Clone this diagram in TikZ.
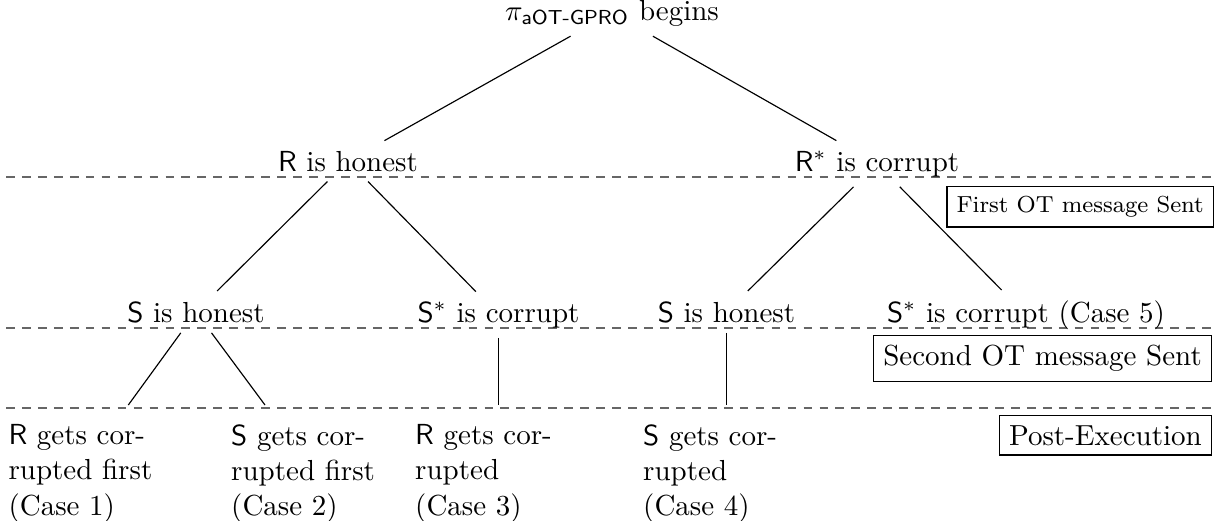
\documentclass[tikz,border=0pt]{standalone}
\usepackage{amsmath}
\usetikzlibrary{calc}
\begin{document}
\begin{tikzpicture}[x=0.3448pt,y=-0.3448pt,
  lbl/.style={inner sep=3.33pt, anchor=base},
  stagebox/.style={draw, inner sep=3.33pt, anchor=north east},
  bot/.style={align=left, anchor=north west, inner sep=3.33pt, font=\fontsize{10}{12.2}\selectfont},
  sep/.style={draw=black!60, dash pattern=on 3pt off 2.5pt},
  conn/.style={draw=black, line width=0.4pt}]
\useasboundingbox (0,0) rectangle (1221,520);

% separators
\coordinate (s1l) at (6,177);   \coordinate (s1r) at (1214,177);
\coordinate (s2l) at (6,328);   \coordinate (s2r) at (1214,328);
\coordinate (s3l) at (6,408);   \coordinate (s3r) at (1214,408);
\coordinate (cut) at (0,405);
\draw[sep] (s1l) -- (s1r);
\draw[sep] (s2l) -- (s2r);
\draw[sep] (s3l) -- (s3r);

% tree nodes
\node[lbl] (top) at (612,20) {$\pi_{\textsf{aOT-GPRO}}$ begins};
\node[lbl] (rh) at (348,171) {\textsf{R} is honest};
\node[lbl] (rc) at (877,171) {$\mathsf{R}^*$ is corrupt};
\node[lbl] (sh1) at (196,322) {\textsf{S} is honest};
\node[lbl] (sc1) at (498.5,322) {$\mathsf{S}^*$ is corrupt};
\node[lbl] (sh2) at (726.5,322) {\textsf{S} is honest};
\node[lbl] (sc2) at (1026,322) {$\mathsf{S}^*$ is corrupt (Case 5)};

\node[bot] (c1) at (-1.7,414) {\textsf{R} gets cor-\\rupted first\\(Case 1)};
\node[bot] (c2) at (221,414) {\textsf{S} gets cor-\\rupted first\\(Case 2)};
\node[bot] (c3) at (405,414) {\textsf{R} gets cor-\\rupted\\(Case 3)};
\node[bot] (c4) at (633,414) {\textsf{S} gets cor-\\rupted\\(Case 4)};

% stage boxes
\node[stagebox, font=\footnotesize] (b1) at (1214,186) {First OT message Sent};
\node[stagebox] (b2) at (1212,335) {Second OT message Sent};
\node[stagebox] (b3) at (1212,415) {Post-Execution};

% connectors
\draw[conn] (top) -- (rh);
\draw[conn] (top) -- (rc);
\draw[conn] (rh) -- (sh1);
\draw[conn] (rh) -- (sc1);
\draw[conn] (rc) -- (sh2);
\draw[conn] (rc) -- (sc2);
\draw[conn] (sh1) -- ($(c1.north west)+(130,-9)$);
\draw[conn] (sh1) -- ($(c2.north west)+(44,-9)$);
\draw[conn] (sc1.south) -- (sc1.south |- cut);
\draw[conn] (sh2.south) -- (sh2.south |- cut);
\end{tikzpicture}
\end{document}
